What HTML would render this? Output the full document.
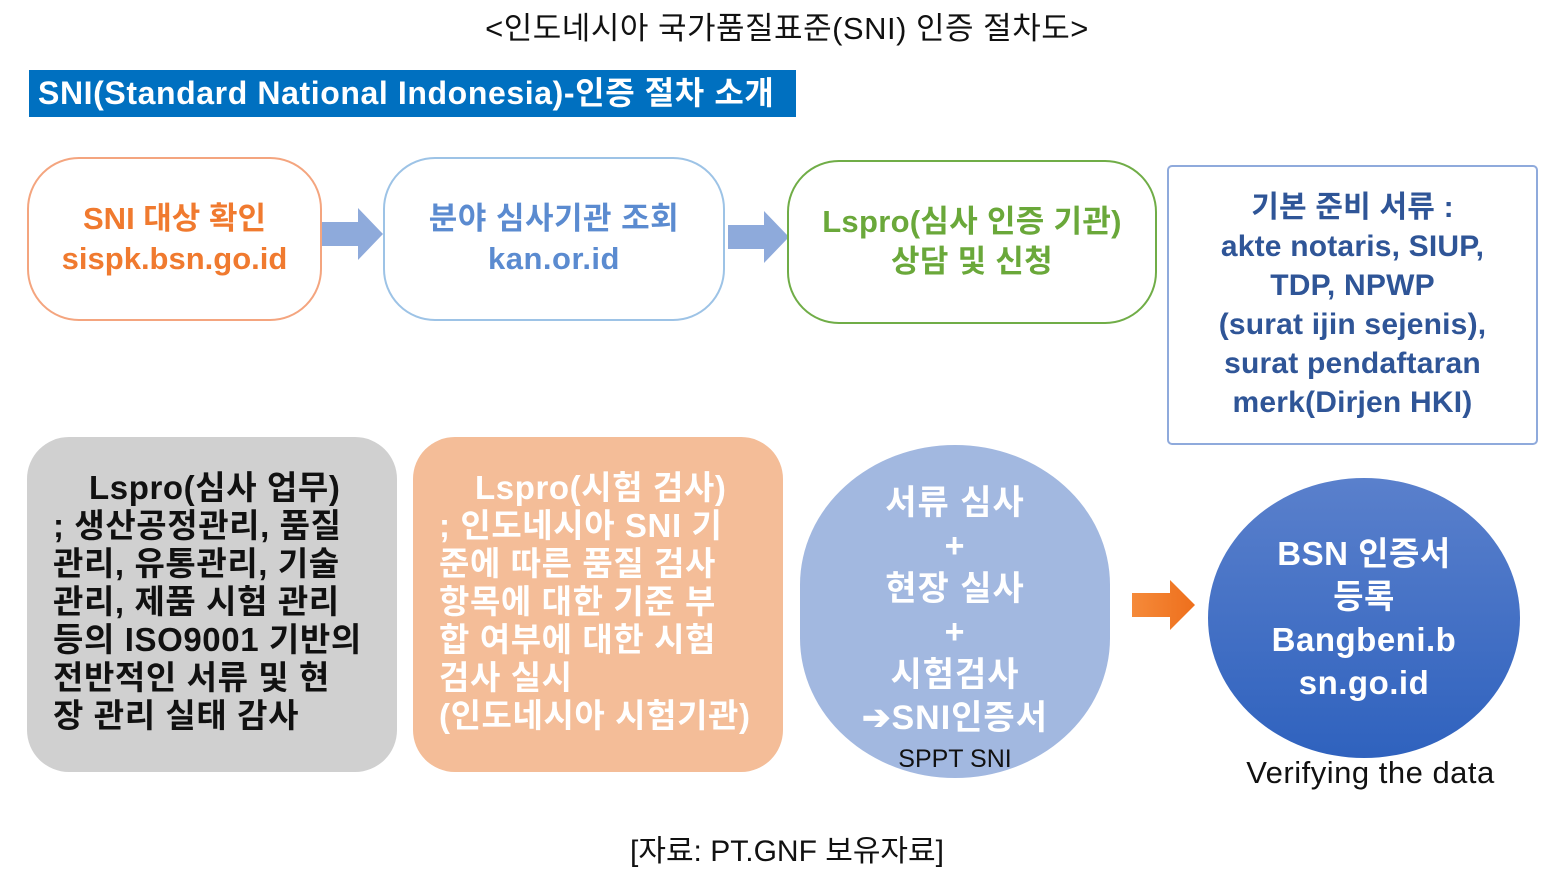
<!DOCTYPE html>
<html><head><meta charset="utf-8"><style>
body{margin:0;width:1564px;height:875px;background:#fff;position:relative;overflow:hidden;font-family:"Liberation Sans","Noto Sans CJK KR",sans-serif;}
.a{position:absolute;box-sizing:border-box;}
.t{text-align:center;font-weight:bold;}
.c{display:flex;flex-direction:column;justify-content:center;align-items:center;}
</style></head><body>
<div class="a" style="left:0;width:1574px;top:3px;text-align:center;font-size:31px;color:#111;letter-spacing:0.5px">&lt;인도네시아 국가품질표준(SNI) 인증 절차도&gt;</div>
<div class="a" style="left:29px;top:70px;width:767px;height:47px;background:#0070c0;color:#fff;font-weight:bold;font-size:32px;line-height:47px;padding-left:9px;letter-spacing:0.6px;white-space:nowrap">SNI(Standard National Indonesia)-인증 절차 소개</div>

<div class="a c t" style="left:27px;top:157px;width:295px;height:164px;border:2px solid #f4a57f;border-radius:52px;color:#f07a2f;font-size:31px;line-height:40px">SNI 대상 확인<br>sispk.bsn.go.id</div>
<svg class="a" style="left:322px;top:208px" width="62" height="52"><polygon points="0,14 36,14 36,0 61,26 36,52 36,38 0,38" fill="#8eaadb"/></svg>
<div class="a c t" style="left:383px;top:157px;width:342px;height:164px;border:2px solid #9dc3e6;border-radius:52px;color:#5b8bd0;font-size:31px;line-height:40px;letter-spacing:0.5px">분야 심사기관 조회<br>kan.or.id</div>
<svg class="a" style="left:728px;top:211px" width="62" height="52"><polygon points="0,14 36,14 36,0 61,26 36,52 36,38 0,38" fill="#8eaadb"/></svg>
<div class="a c t" style="left:787px;top:160px;width:370px;height:164px;border:2px solid #70ad47;border-radius:52px;color:#6aa83a;font-size:31px;line-height:40px;letter-spacing:0.3px">Lspro(심사 인증 기관)<br>상담 및 신청</div>
<div class="a c t" style="left:1167px;top:165px;width:371px;height:280px;border:2px solid #8faadc;border-radius:5px;color:#2f5597;font-size:30px;line-height:39px;letter-spacing:0.2px">기본 준비 서류 :<br>akte notaris, SIUP,<br>TDP, NPWP<br>(surat ijin sejenis),<br>surat pendaftaran<br>merk(Dirjen HKI)</div>

<div class="a t" style="left:27px;top:437px;width:370px;height:335px;background:#d0d0d0;border-radius:42px;color:#111;font-size:33px;line-height:38px;padding:32px 0 0 26px;text-align:left;letter-spacing:0.6px;white-space:nowrap"><div style="padding-left:36px">Lspro(심사 업무)</div>; 생산공정관리, 품질<br>관리, 유통관리, 기술<br>관리, 제품 시험 관리<br>등의 ISO9001 기반의<br>전반적인 서류 및 현<br>장 관리 실태 감사</div>
<div class="a t" style="left:413px;top:437px;width:370px;height:335px;background:#f4bd98;border-radius:42px;color:#fff;font-size:33px;line-height:38px;padding:32px 0 0 26px;text-align:left;letter-spacing:0.6px;white-space:nowrap"><div style="padding-left:36px">Lspro(시험 검사)</div>; 인도네시아 SNI 기<br>준에 따른 품질 검사<br>항목에 대한 기준 부<br>합 여부에 대한 시험<br>검사 실시<br>(인도네시아 시험기관)</div>

<div class="a" style="left:800px;top:445px;width:310px;height:333px;background:#a2b8e0;border-radius:50%/42%"></div>
<div class="a t" style="left:800px;top:482px;width:310px;color:#fff;font-size:34px;line-height:43px;letter-spacing:1px">서류 심사<br>+<br>현장 실사<br>+<br>시험검사<br>➔SNI인증서</div>
<div class="a" style="left:800px;top:745px;width:310px;text-align:center;font-size:25px;color:#111">SPPT SNI</div>
<svg class="a" style="left:1132px;top:580px" width="64" height="50"><defs><linearGradient id="g" x1="0" x2="1"><stop offset="0" stop-color="#f58a3a"/><stop offset="1" stop-color="#ee6f1c"/></linearGradient></defs><polygon points="0,13 38,13 38,0 63,25 38,50 38,37 0,37" fill="url(#g)"/></svg>
<div class="a c t" style="left:1208px;top:478px;width:312px;height:280px;border-radius:50%;background:linear-gradient(#5a80cc,#2f62be);color:#fff;font-size:33px;line-height:43px;letter-spacing:0.5px">BSN 인증서<br>등록<br>Bangbeni.b<br>sn.go.id</div>
<div class="a" style="left:1208px;top:755px;width:325px;text-align:center;font-size:31px;color:#111;letter-spacing:0.5px">Verifying the data</div>
<div class="a" style="left:0;width:1574px;top:826px;text-align:center;font-size:30px;color:#111">[자료: PT.GNF 보유자료]</div>
</body></html>
